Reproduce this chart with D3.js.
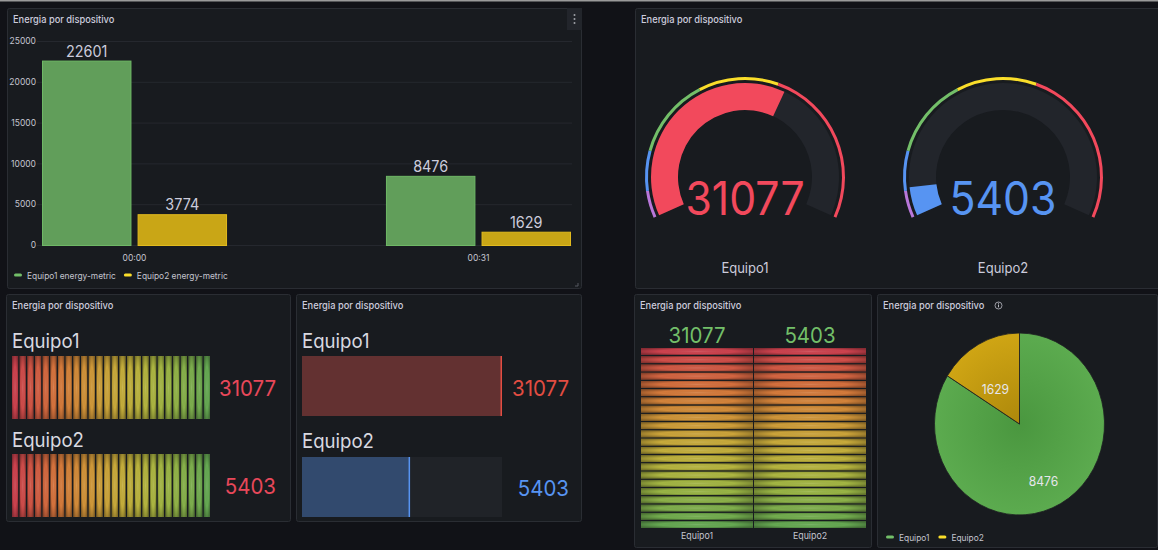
<!DOCTYPE html>
<html>
<head>
<meta charset="utf-8">
<script src="https://cdn.jsdelivr.net/npm/d3@7"></script>
<style>
  body { margin: 0; background: #111217; }
  svg { display: block; font-family: Inter, "Noto Sans", sans-serif; }
</style>
</head>
<body>
<svg id="chart" width="1158" height="550"></svg>
<script>
// datos
const devices = ["Equipo1", "Equipo2"];
const times = ["00:00", "00:31"];
const seriesNames = ["Equipo1 energy-metric", "Equipo2 energy-metric"];
const energyEquipo1 = [22601, 8476];
const energyEquipo2 = [3774, 1629];
const totals = [31077, 5403];
const lastValues = [8476, 1629];
const yTicks = [0, 5000, 10000, 15000, 20000, 25000];
const gaugeRange = [1629, 50000];
const thresholdValues = [5000, 10000, 20000, 30000];
const barGaugeMax = 10000;
const lcdMax = 5000;

const thresholdColors = ["#b877d9", "#5794f2", "#73bf69", "#fade2a", "#f2495c"];
const SX = 0.93; // la captura está algo comprimida en horizontal

const svg = d3.select("#chart");
const defs = svg.append("defs");

const glow = defs.append("radialGradient").attr("id", "glow")
    .attr("cx", 0.5).attr("cy", 0.5).attr("r", 0.6);
glow.append("stop").attr("offset", 0).attr("stop-color", "#fff").attr("stop-opacity", 0.12);
glow.append("stop").attr("offset", 0.55).attr("stop-color", "#000").attr("stop-opacity", 0);
glow.append("stop").attr("offset", 1).attr("stop-color", "#000").attr("stop-opacity", 0.35);

function txt(parent, x, y, s, size, fill, anchor = "start", weight = 400) {
    return parent.append("text")
        .attr("transform", `translate(${x},${y}) scale(${SX},1)`)
        .attr("text-anchor", anchor)
        .attr("font-size", size)
        .attr("font-weight", weight)
        .attr("fill", fill)
        .text(s);
}

function panel(p, title) {
    svg.append("rect")
        .attr("x", p.x + 0.5).attr("y", p.y + 0.5)
        .attr("width", p.w - 1).attr("height", p.h - 1)
        .attr("rx", 2)
        .attr("fill", "#181b1f").attr("stroke", "#2a2d33");
    txt(svg, p.x + 6, p.y + 15, title, 10, "#ccccdc", "start", 500);
}

// franja superior
svg.append("rect").attr("x", 0).attr("y", 0).attr("width", 1158).attr("height", 1.5).attr("fill", "#9a9a9a");

const title = "Energia por dispositivo";
const p1 = { x: 7, y: 8, w: 575, h: 281 };
const p2 = { x: 635, y: 8, w: 530, h: 281 };
const p3 = { x: 6, y: 294, w: 285, h: 228 };
const p4 = { x: 296, y: 294, w: 286, h: 228 };
const p5 = { x: 634, y: 294, w: 238, h: 254 };
const p6 = { x: 877, y: 294, w: 281, h: 254 };

// ---------- panel 1: barras ----------
panel(p1, title);
svg.append("rect").attr("x", 567).attr("y", 8).attr("width", 15).attr("height", 22).attr("fill", "#22252b");
[15, 19, 23].forEach(cy => svg.append("circle").attr("cx", 574.5).attr("cy", cy).attr("r", 1).attr("fill", "#9fa1a8"));
svg.append("path").attr("d", "M578,283 L578,286 L575,286").attr("stroke", "#555860").attr("fill", "none");

const y = d3.scaleLinear().domain([0, 25000]).range([245, 41]);
const x0 = d3.scaleBand().domain(times).range([42, 571]).paddingInner(0.462).paddingOuter(0);
const x1 = d3.scaleBand().domain(seriesNames).range([0, x0.bandwidth()]).paddingInner(0.064);

const barData = times.map((t, i) => ({
    time: t,
    values: [
        { key: seriesNames[0], value: energyEquipo1[i] },
        { key: seriesNames[1], value: energyEquipo2[i] }
    ]
}));
const barFill = d3.scaleOrdinal().domain(seriesNames).range(["#619e5a", "#c9a616"]);
const barLine = d3.scaleOrdinal().domain(seriesNames).range(["#6fb866", "#e2bb1e"]);

const g1 = svg.append("g");
g1.selectAll(".grid").data(yTicks).enter().append("line")
    .attr("x1", 37).attr("x2", 572)
    .attr("y1", d => y(d) + 0.5).attr("y2", d => y(d) + 0.5)
    .attr("stroke", "#25282e");

const yAxis = g1.append("g").attr("transform", "translate(37,0)")
    .call(d3.axisLeft(y).tickValues(yTicks).tickSize(0).tickPadding(1).tickFormat(d3.format("d")));
yAxis.select(".domain").remove();
yAxis.selectAll("text").attr("fill", "#c4c5cf").attr("font-size", 8.5).attr("font-family", "Inter");

const xAxis = g1.append("g").attr("transform", "translate(0,255)")
    .call(d3.axisBottom(x0).tickSize(0).tickPadding(0));
xAxis.select(".domain").remove();
xAxis.selectAll("text").attr("fill", "#c4c5cf").attr("font-size", 8.5).attr("font-family", "Inter").attr("dy", "0.71em");

const groups = g1.selectAll(".grp").data(barData).enter().append("g")
    .attr("transform", d => `translate(${x0(d.time)},0)`);
groups.selectAll("rect").data(d => d.values).enter().append("rect")
    .attr("x", d => x1(d.key) + 0.5)
    .attr("y", d => y(d.value) + 0.5)
    .attr("width", x1.bandwidth() - 1)
    .attr("height", d => y(0) - y(d.value))
    .attr("fill", d => barFill(d.key))
    .attr("stroke", d => barLine(d.key));
groups.each(function (d) {
    const g = d3.select(this);
    d.values.forEach(v => {
        txt(g, x1(v.key) + x1.bandwidth() / 2, y(v.value) - 4, v.value, 15.5, "#ccccdc", "middle");
    });
});

// leyenda
let lx = 14;
seriesNames.forEach((s, i) => {
    svg.append("rect").attr("x", lx).attr("y", 273.5).attr("width", 8).attr("height", 3).attr("rx", 1.5)
        .attr("fill", thresholdColors[i === 0 ? 2 : 3]);
    const t = txt(svg, lx + 13, 278.5, s, 9, "#c4c5cf");
    lx += 13 + t.node().getBBox().width * SX + 8;
});

// ---------- panel 2: gauges ----------
panel(p2, title);
const toRad = Math.PI / 180;
const gAngle = d3.scaleLinear().domain(gaugeRange).range([-114 * toRad, 114 * toRad]).clamp(true);
const thrColor = d3.scaleThreshold().domain(thresholdValues).range(thresholdColors);
const gx = d3.scaleBand().domain(devices).range([616, 1132]);
const gaugeArc = d3.arc().innerRadius(67).outerRadius(94);
const ringArc = d3.arc().innerRadius(97).outerRadius(100);
const bounds = [gaugeRange[0], ...thresholdValues, gaugeRange[1]];

devices.forEach((dev, i) => {
    const g = svg.append("g").attr("transform", `translate(${gx(dev) + gx.bandwidth() / 2},177)`);
    g.append("path").attr("d", gaugeArc({ startAngle: gAngle(gaugeRange[0]), endAngle: gAngle(gaugeRange[1]) }))
        .attr("fill", "#22252b");
    g.append("path").attr("d", gaugeArc({ startAngle: gAngle(gaugeRange[0]), endAngle: gAngle(totals[i]) }))
        .attr("fill", thrColor(totals[i]));
    for (let k = 0; k < bounds.length - 1; k++) {
        g.append("path").attr("d", ringArc({ startAngle: gAngle(bounds[k]), endAngle: gAngle(bounds[k + 1]) }))
            .attr("fill", thresholdColors[k]);
    }
    txt(g, 0, 38, totals[i], 46, thrColor(totals[i]), "middle");
    txt(g, 0, 96, dev, 14, "#ccccdc", "middle");
});

// ---------- panel 3: LCD horizontal ----------
panel(p3, title);
const lcdColor = d3.interpolateRgbBasis(["#dc4552", "#e87a3c", "#e0a63c", "#d4c13e", "#a9c448", "#6db457"]);
const nCells = 26;
const cellX = d3.scaleBand().domain(d3.range(nCells)).range([12, 210]).paddingInner(0.2);
const cellVal = d3.scaleLinear().domain([0, nCells]).range([0, lcdMax]);
const rowsY3 = [{ top: 356, h: 63, label: 348, value: 396 }, { top: 454, h: 63, label: 447, value: 494 }];
devices.forEach((dev, i) => {
    const r = rowsY3[i];
    txt(svg, 12, r.label, dev, 20, "#d8d9e0");
    const cells = svg.append("g");
    d3.range(nCells).forEach(c => {
        const lit = cellVal(c) < totals[i];
        cells.append("rect").attr("x", cellX(c)).attr("y", r.top).attr("width", cellX.bandwidth()).attr("height", r.h)
            .attr("fill", lcdColor(c / (nCells - 1))).attr("opacity", lit ? 0.92 : 0.2);
        cells.append("rect").attr("x", cellX(c)).attr("y", r.top).attr("width", cellX.bandwidth()).attr("height", r.h)
            .attr("fill", "url(#glow)");
    });
    txt(svg, 276, r.value, totals[i], 22, "#e8485a", "end");
});

// ---------- panel 4: barras básicas ----------
panel(p4, title);
const bx = d3.scaleLinear().domain([0, barGaugeMax]).range([302, 502]).clamp(true);
const rowsY4 = [{ top: 356, h: 60, label: 348, value: 396 }, { top: 457, h: 60, label: 448, value: 496 }];
const basicColors = ["#e24d42", "#5794f2"];
devices.forEach((dev, i) => {
    const r = rowsY4[i];
    const c = basicColors[i];
    txt(svg, 302, r.label, dev, 20, "#d8d9e0");
    svg.append("rect").attr("x", bx(0)).attr("y", r.top).attr("width", bx(barGaugeMax) - bx(0)).attr("height", r.h)
        .attr("fill", "#202328");
    svg.append("rect").attr("x", bx(0)).attr("y", r.top).attr("width", bx(totals[i]) - bx(0)).attr("height", r.h)
        .attr("fill", c).attr("fill-opacity", 0.35);
    svg.append("rect").attr("x", bx(totals[i]) - 1.5).attr("y", r.top).attr("width", 1.5).attr("height", r.h)
        .attr("fill", c);
    txt(svg, 569, r.value, totals[i], 22, c, "end");
});

// ---------- panel 5: LCD vertical ----------
panel(p5, title);
const nRows = 22;
const colX = d3.scaleBand().domain(devices).range([641, 866]).paddingInner(0.009);
const rowY = d3.scaleBand().domain(d3.range(nRows)).range([348, 528]).paddingInner(0.17);
const rowVal = d3.scaleLinear().domain([nRows, 0]).range([0, lcdMax]);
devices.forEach((dev, i) => {
    const cx = colX(dev);
    const w = colX.bandwidth();
    txt(svg, cx + w / 2, 343, totals[i], 22, "#73bf69", "middle");
    d3.range(nRows).forEach(rw => {
        const lit = rowVal(rw + 1) < totals[i];
        svg.append("rect").attr("x", cx).attr("y", rowY(rw)).attr("width", w).attr("height", rowY.bandwidth())
            .attr("fill", lcdColor(rw / (nRows - 1))).attr("opacity", lit ? 0.92 : 0.2);
        svg.append("rect").attr("x", cx).attr("y", rowY(rw)).attr("width", w).attr("height", rowY.bandwidth())
            .attr("fill", "url(#glow)");
    });
    txt(svg, cx + w / 2, 539, dev, 9.5, "#c4c5cf", "middle");
});

// ---------- panel 6: tarta ----------
panel(p6, title);
svg.append("circle").attr("cx", 998.5).attr("cy", 305.5).attr("r", 3.5).attr("fill", "none").attr("stroke", "#b8b9c2").attr("stroke-width", 0.8);
svg.append("rect").attr("x", 998).attr("y", 304.5).attr("width", 1).attr("height", 2.8).attr("fill", "#b8b9c2");
svg.append("rect").attr("x", 998).attr("y", 302.8).attr("width", 1).attr("height", 0.9).attr("fill", "#b8b9c2");

const R = 85, SY = 1.07;
const pcx = 1019.5, pcy = 424;
const pieColors = [["#4a973f", "#5cab4f"], ["#ad880b", "#cfa514"]];
pieColors.forEach((pc, i) => {
    const gr = defs.append("radialGradient").attr("id", "pg" + i).attr("gradientUnits", "userSpaceOnUse")
        .attr("cx", 0).attr("cy", 0).attr("r", R);
    gr.append("stop").attr("offset", 0).attr("stop-color", pc[0]);
    gr.append("stop").attr("offset", 1).attr("stop-color", pc[1]);
});
const pie = d3.pie().sort(null).value(d => d);
const arcs = pie(lastValues);
const pieArc = d3.arc().innerRadius(0).outerRadius(R);
const labelArc = d3.arc().innerRadius(R / 6).outerRadius(R);
const pg = svg.append("g").attr("transform", `translate(${pcx},${pcy}) scale(1,${SY})`);
pg.selectAll("path").data(arcs).enter().append("path")
    .attr("d", pieArc)
    .attr("fill", (d, i) => `url(#pg${i})`)
    .attr("stroke", "#1d1f22").attr("stroke-width", 0.8);
arcs.forEach(a => {
    const [lx2, ly2] = labelArc.centroid(a);
    txt(svg, pcx + lx2, pcy + ly2 * SY + 16, a.data, 13, "#e6e6ec", "middle");
});
let px = 886;
devices.forEach((dev, i) => {
    svg.append("rect").attr("x", px).attr("y", 535.5).attr("width", 8).attr("height", 3).attr("rx", 1.5)
        .attr("fill", thresholdColors[i === 0 ? 2 : 3]);
    const t = txt(svg, px + 13, 540.5, dev, 9, "#c4c5cf");
    px += 13 + t.node().getBBox().width * SX + 9;
});
</script>
</body>
</html>
